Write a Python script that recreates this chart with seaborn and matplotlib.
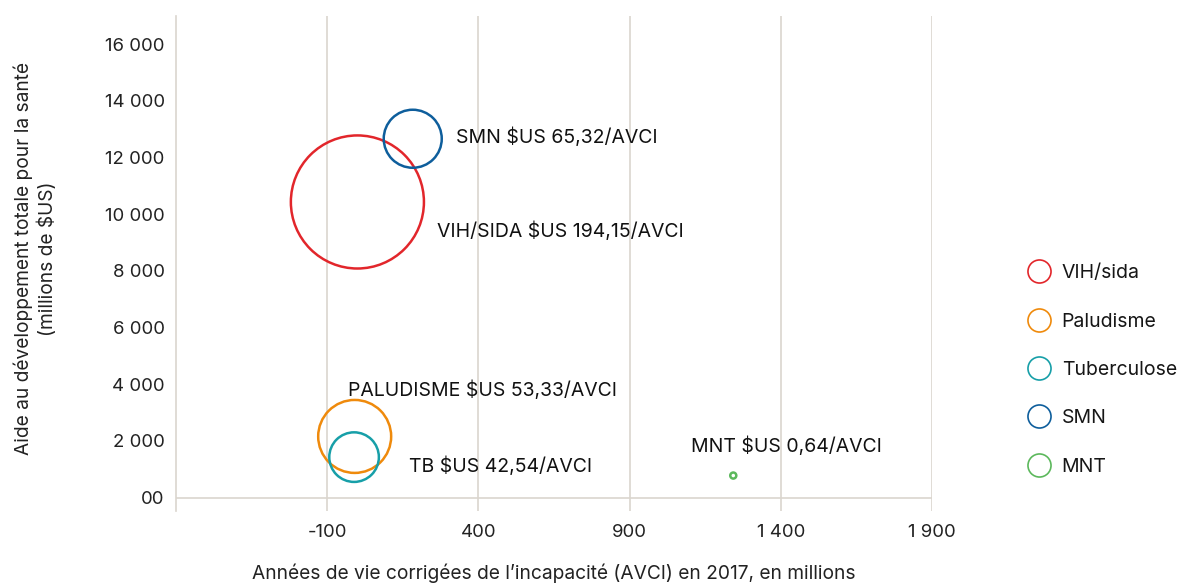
import matplotlib
matplotlib.use("Agg")
import matplotlib.pyplot as plt
from matplotlib.lines import Line2D
from matplotlib.ticker import FixedLocator, FixedFormatter
import seaborn as sns
import pandas as pd

# ---- data ----
maladies = ["VIH/sida", "Paludisme", "Tuberculose", "SMN", "MNT"]
avci = [0, -9, -11, 183, 1243]              # AVCI 2017, millions
aide = [10430, 2160, 1430, 12660, 780]      # aide au développement, millions $US
taille = [9180, 2760, 1275, 1745, 19]       # bubble size (relative area)
etiquettes = ["VIH/SIDA $US 194,15/AVCI", "PALUDISME $US 53,33/AVCI",
              "TB $US 42,54/AVCI", "SMN $US 65,32/AVCI", "MNT $US 0,64/AVCI"]
x_ticks = [-100, 400, 900, 1400, 1900]
x_ticklabels = ["-100", "400", "900", "1 400", "1 900"]
y_ticks = [0, 2000, 4000, 6000, 8000, 10000, 12000, 14000, 16000]
y_ticklabels = ["00", "2 000", "4 000", "6 000", "8 000", "10 000", "12 000", "14 000", "16 000"]

# ---- style ----
couleurs = ["#E2262B", "#EF8A0C", "#179FA8", "#0E5E9C", "#5CB85C"]
decalages = [(57.0, -21.0), (-4.7, 33.0), (39.7, -6.3), (31.2, 1.1), (-30.5, 21.4)]
grid_col = "#DAD5CE"
fs_txt = 14
fs_lab = 13.8
fs_tick = 13.4
txt_col = "#161616"

sns.set_theme(style="white")
plt.rcParams["font.family"] = ["Inter", "DejaVu Sans"]
plt.rcParams["text.color"] = txt_col

df = pd.DataFrame({"maladie": maladies, "avci": avci, "aide": aide, "taille": taille})

fig = plt.figure(figsize=(11.77, 5.86), dpi=100)
ax = fig.add_axes([0.1495, 0.128, 0.6423, 0.8452])

sns.scatterplot(data=df, x="avci", y="aide", hue="maladie", palette=couleurs,
                size="taille", sizes=(min(taille), max(taille)),
                legend=False, ax=ax, zorder=3)
coll = ax.collections[0]
fc = coll.get_facecolors()
coll.set_edgecolors(fc)
coll.set_facecolors("none")
coll.set_linewidths(1.8)

ax.set_xlim(-600, 1900)
ax.set_ylim(-470, 17000)
ax.xaxis.set_major_locator(FixedLocator(x_ticks))
ax.xaxis.set_major_formatter(FixedFormatter(x_ticklabels))
ax.yaxis.set_major_locator(FixedLocator(y_ticks))
ax.yaxis.set_major_formatter(FixedFormatter(y_ticklabels))
ax.tick_params(axis="both", length=0, labelsize=fs_tick, colors="#222222")
ax.tick_params(axis="x", pad=9.5)
ax.tick_params(axis="y", pad=8)

ax.grid(axis="x", color=grid_col, linewidth=1.2)
ax.grid(axis="y", visible=False)
ax.axhline(0, color=grid_col, linewidth=1.2, zorder=1)
for s in ["top", "right", "bottom"]:
    ax.spines[s].set_visible(False)
ax.spines["left"].set_color(grid_col)
ax.spines["left"].set_linewidth(1.2)

for xv, yv, lab, (dx, dy) in zip(avci, aide, etiquettes, decalages):
    ax.annotate(lab, xy=(xv, yv), xytext=(dx, dy), textcoords="offset points",
                ha="left", va="center", fontsize=fs_txt, color="#111111")

ax.set_xlabel("Années de vie corrigées de l’incapacité (AVCI) en 2017, en millions",
              fontsize=fs_lab, color="#222222")
ax.xaxis.set_label_coords(0.5, -0.107)
ax.set_ylabel("Aide au développement totale pour la santé\n(millions de $US)",
              fontsize=fs_lab, color="#222222", linespacing=1.3)
ax.yaxis.set_label_coords(-0.157, 0.51)

handles = [Line2D([], [], marker="o", ls="none", markersize=16.6, mfc="none",
                  mec=c, mew=1.2) for c in couleurs]
fig.legend(handles, maladies, loc="upper left", bbox_to_anchor=(0.872, 0.549),
           frameon=False, fontsize=fs_txt, borderpad=0, borderaxespad=0,
           handlelength=1.3, handletextpad=0.52, labelspacing=1.56)

fig.savefig("out.png", dpi=100)
